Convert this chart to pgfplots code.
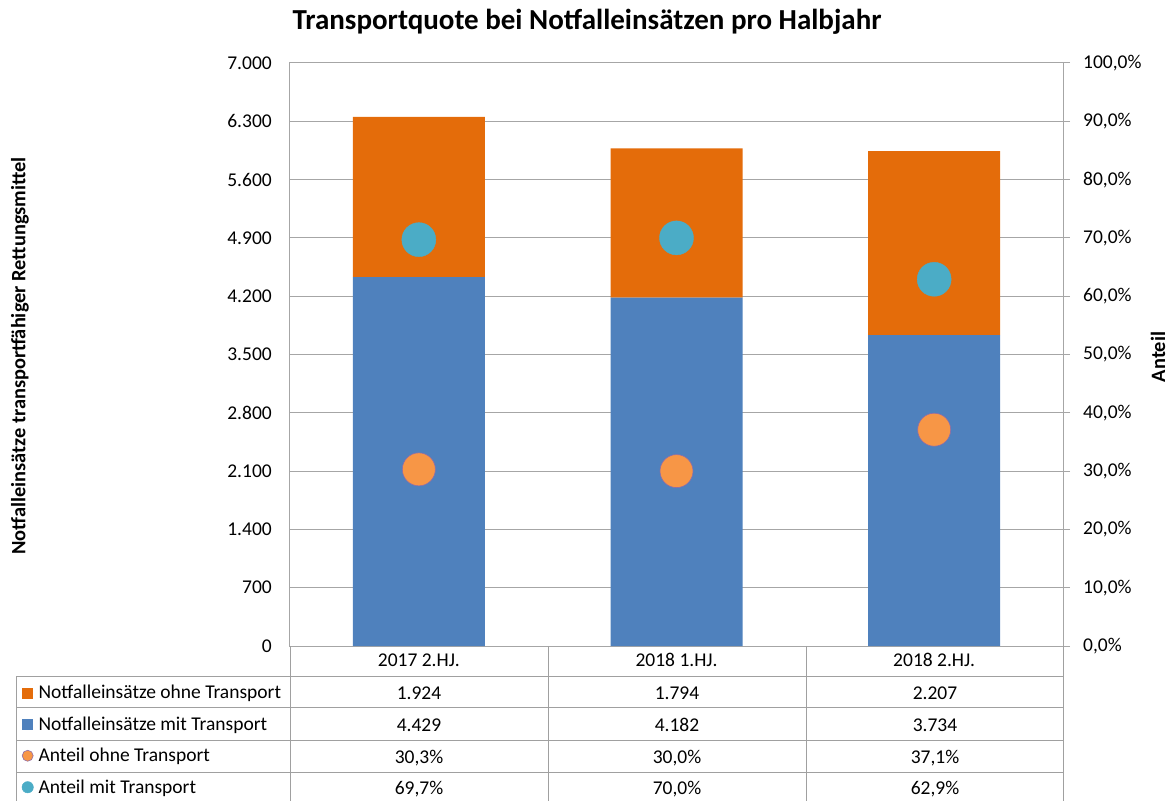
\documentclass[border=0pt]{standalone}
\usepackage{pgfplots}
\pgfplotsset{compat=1.18}
\usepackage{pgfplotstable}
\usepackage{fontspec}
\setmainfont{Carlito}
\definecolor{barorange}{HTML}{E46C0A}
\definecolor{barblue}{HTML}{4F81BD}
\definecolor{dotorange}{HTML}{F79646}
\definecolor{dotcyan}{HTML}{4BACC6}
\definecolor{dotedge}{HTML}{8E6CA8}
\definecolor{gridgray}{HTML}{A6A6A6}
\definecolor{tablegray}{HTML}{A0A0A0}
\newcommand{\fs}{\fontsize{19.5pt}{22pt}\selectfont}

\pgfplotstableread{
x mit ohne amit aohne
0 4429 1924 69.7 30.3
1 4182 1794 70.0 30.0
2 3734 2207 62.9 37.1
}\datatable

\begin{document}
\begin{tikzpicture}[x=1pt,y=1pt]
\useasboundingbox (0pt,0pt) rectangle (1173pt,801pt);
\begin{axis}[
  at={(290pt,155pt)}, anchor=south west,
  scale only axis, width=773pt, height=583pt,
  xmin=-0.5, xmax=2.5, ymin=0, ymax=7000,
  ybar stacked, bar width=132pt,
  ytick distance=700,
  xtick={0,1,2}, xticklabels={2017 2.HJ., 2018 1.HJ., 2018 2.HJ.},
  xtick style={draw=none}, ytick style={draw=none},
  axis line style={gridgray, line width=1pt},
  ymajorgrids, grid style={gridgray, line width=1pt},
  tick label style={font=\fs},
  /pgf/number format/1000 sep={.},
  /pgf/number format/assume math mode=true,
  yticklabel style={inner sep=0pt, xshift=-18pt},
  xticklabel style={anchor=base, inner sep=0pt, yshift=-20pt},
  legend style={at={(-0.35446,-0.05317)}, anchor=north west, draw=none, fill=none,
    inner sep=0pt, outer sep=0pt, row sep=0pt, column sep=5pt,
    nodes={font=\fs, minimum height=31.5pt, inner sep=0pt}},
  legend cell align=left,
]
\addlegendimage{legend image code/.code={\path (0pt,0pt); \fill[barorange] (6pt,-5pt) rectangle (16pt,5pt);}}
\addlegendentry{Notfalleinsätze ohne Transport}
\addlegendimage{legend image code/.code={\path (0pt,0pt); \fill[barblue] (6pt,-5pt) rectangle (16pt,5pt);}}
\addlegendentry{Notfalleinsätze mit Transport}
\addlegendimage{legend image code/.code={\path (0pt,0pt); \filldraw[fill=dotorange, draw=dotedge, line width=0.6pt] (11.5pt,0pt) circle (5.5pt);}}
\addlegendentry{Anteil ohne Transport}
\addlegendimage{legend image code/.code={\path (0pt,0pt); \fill[dotcyan] (11.5pt,0pt) circle (5.7pt);}}
\addlegendentry{Anteil mit Transport}
\addplot[fill=barblue, draw=none] table[x=x, y=mit] {\datatable};
\addplot[fill=barorange, draw=none] table[x=x, y=ohne] {\datatable};
\end{axis}
\begin{axis}[
  at={(290pt,155pt)}, anchor=south west,
  scale only axis, width=773pt, height=583pt,
  xmin=-0.5, xmax=2.5, ymin=0, ymax=100,
  axis y line*=right, axis x line=none,
  ytick distance=10,
  axis line style={gridgray, line width=1pt},
  ytick style={gridgray, line width=1pt},
  tick align=outside, major tick length=7pt,
  tick label style={font=\fs},
  yticklabel={\pgfmathprintnumber[fixed, fixed zerofill, precision=1, use comma, assume math mode=true]{\tick}\%},
  yticklabel style={inner sep=0pt, xshift=13pt},
  clip=false,
]
\addplot[only marks, mark=*, mark size=16.5pt, mark options={fill=dotorange, draw=dotedge, line width=0.6pt}] table[x=x, y=aohne] {\datatable};
\addplot[only marks, mark=*, mark size=17pt, mark options={fill=dotcyan, draw=dotcyan}] table[x=x, y=amit] {\datatable};
\end{axis}
% data table grid
\begin{scope}[tablegray, line width=1pt]
\draw (290,155) -- (290,0);
\draw (548,155) -- (548,0);
\draw (806,155) -- (806,0);
\draw (1063,155) -- (1063,0);
\draw (16,124) -- (16,0);
\foreach \y in {124,93,61,29} \draw (16,\y) -- (1063,\y);
\end{scope}
\begin{scope}[font=\fs]
\node[anchor=base, inner sep=0pt] at (419,102) {1.924};
\node[anchor=base, inner sep=0pt] at (677,102) {1.794};
\node[anchor=base, inner sep=0pt] at (935,102) {2.207};
\node[anchor=base, inner sep=0pt] at (419,70) {4.429};
\node[anchor=base, inner sep=0pt] at (677,70) {4.182};
\node[anchor=base, inner sep=0pt] at (935,70) {3.734};
\node[anchor=base, inner sep=0pt] at (419,38) {30,3\%};
\node[anchor=base, inner sep=0pt] at (677,38) {30,0\%};
\node[anchor=base, inner sep=0pt] at (935,38) {37,1\%};
\node[anchor=base, inner sep=0pt] at (419,7) {69,7\%};
\node[anchor=base, inner sep=0pt] at (677,7) {70,0\%};
\node[anchor=base, inner sep=0pt] at (935,7) {62,9\%};
\end{scope}
\node[font=\fontsize{29pt}{34pt}\selectfont\bfseries] at (587,779) {Transportquote bei Notfalleinsätzen pro Halbjahr};
\node[rotate=90, font=\fontsize{20.4pt}{24pt}\selectfont\bfseries] at (20,445) {Notfalleinsätze transportfähiger Rettungsmittel};
\node[rotate=90, font=\fontsize{20.4pt}{24pt}\selectfont\bfseries] at (1158,444) {Anteil};
\end{tikzpicture}
\end{document}
